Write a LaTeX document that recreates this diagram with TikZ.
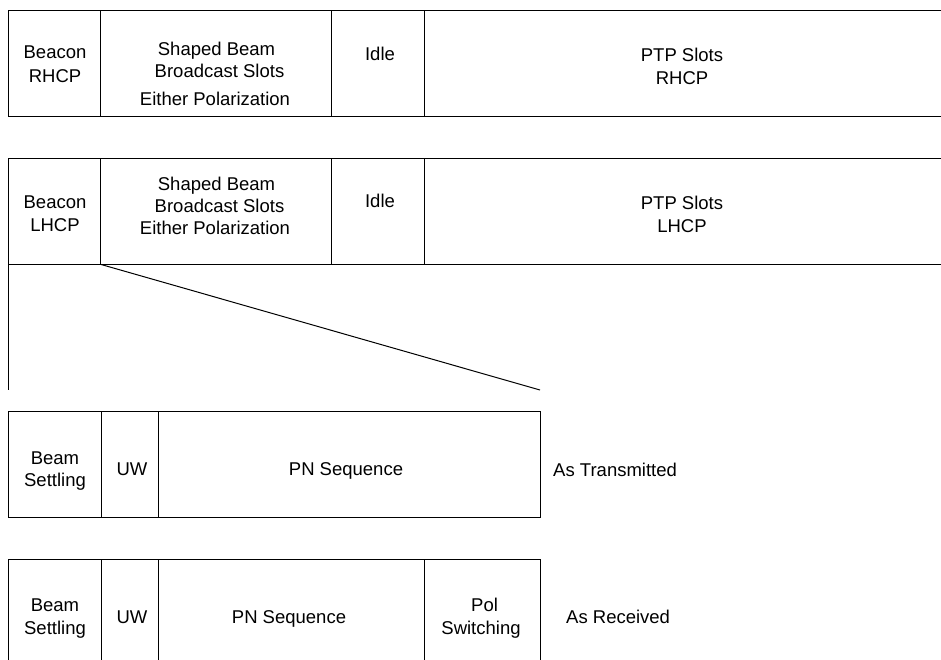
\documentclass[tikz,border=0pt]{standalone}
\usepackage{fontspec}
\setmainfont{Liberation Sans}
\tikzset{
  cell/.style={draw=black,line width=1pt,anchor=north west,inner sep=0pt,outer sep=0pt},
  lab/.style={anchor=base,inner sep=0pt,font=\fontsize{18.5}{22}\selectfont,text=black},
  labl/.style={lab,anchor=base west},
  link/.style={draw=black,line width=1pt}
}
\newcommand{\cellbox}[5]{\node[cell,minimum width=#4pt,minimum height=#5pt] (#1) at (#2,#3) {};}
\begin{document}
\begin{tikzpicture}[x=1pt,y=-1pt]
\useasboundingbox (0,0) rectangle (941,659);
\clip (0,0) rectangle (941,659);
% row 1
\cellbox{a1}{8.7}{10.7}{91.8}{106}
\cellbox{a2}{100.5}{10.7}{231}{106}
\cellbox{a3}{331.5}{10.7}{92.5}{106}
\cellbox{a4}{424}{10.7}{530}{106}
\node[lab] (t1a) at (55,58.5) {Beacon};
\node[lab] (t1b) at (55,82.7) {RHCP};
\node[lab] (t1c) at (216.5,55) {Shaped Beam};
\node[lab] (t1d) at (219.5,77) {Broadcast Slots};
\node[lab] (t1e) at (215,105) {Either Polarization};
\node[lab] (t1f) at (380,60) {Idle};
\node[lab] (t1g) at (682,61) {PTP Slots};
\node[lab] (t1h) at (682,84) {RHCP};
% row 2
\cellbox{b1}{8.7}{158.7}{91.8}{105.6}
\cellbox{b2}{100.5}{158.7}{231}{105.6}
\cellbox{b3}{331.5}{158.7}{92.5}{105.6}
\cellbox{b4}{424}{158.7}{530}{105.6}
\node[lab] (t2a) at (55,208) {Beacon};
\node[lab] (t2b) at (55,231.7) {LHCP};
\node[lab] (t2c) at (216.5,190) {Shaped Beam};
\node[lab] (t2d) at (219.5,212) {Broadcast Slots};
\node[lab] (t2e) at (215,234) {Either Polarization};
\node[lab] (t2f) at (380,207) {Idle};
\node[lab] (t2g) at (682,209) {PTP Slots};
\node[lab] (t2h) at (682,232) {LHCP};
% row 3
\cellbox{c1}{8}{411.7}{93}{106}
\cellbox{c2}{101}{411.7}{57.5}{106}
\cellbox{c3}{158.5}{411.7}{381.5}{106}
\node[lab] (t3a) at (55,464) {Beam};
\node[lab] (t3b) at (55,486.5) {Settling};
\node[lab] (t3c) at (132,475) {UW};
\node[lab] (t3d) at (346,475) {PN Sequence};
\node[labl] (t3e) at (553,476) {As Transmitted};
% row 4
\cellbox{d1}{8}{559.3}{93}{110}
\cellbox{d2}{101}{559.3}{57.5}{110}
\cellbox{d3}{158.5}{559.3}{265.5}{110}
\cellbox{d4}{424}{559.3}{116}{110}
\node[lab] (t4a) at (55,611) {Beam};
\node[lab] (t4b) at (55,634) {Settling};
\node[lab] (t4c) at (132,623) {UW};
\node[lab] (t4d) at (289,623) {PN Sequence};
\node[lab] (t4e) at (484.6,611) {Pol};
\node[lab] (t4f) at (481,634) {Switching};
\node[labl] (t4g) at (566,623) {As Received};
% expansion lines
\coordinate (zl) at (8.7,390);
\coordinate (zr) at (540,390);
\draw[link] (b1.south west) -- (zl);
\draw[link] (b1.south east) -- (zr);
\end{tikzpicture}
\end{document}
